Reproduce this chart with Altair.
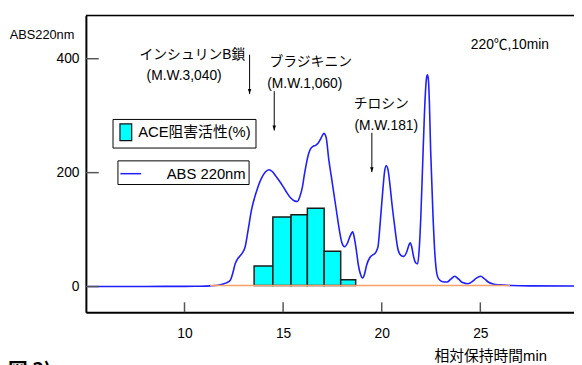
import altair as alt
import pandas as pd

# ---------------- data ----------------
# chromatogram, ABS 220nm (x: relative retention time, min)
curve_t = [5.1, 8.0, 10.0, 10.8, 11.3, 11.7, 12.0, 12.15, 12.32, 12.45, 12.57, 12.7, 12.82,
           12.95, 13.07, 13.23, 13.4, 13.65, 13.9, 14.1, 14.28, 14.45, 14.65, 14.9, 15.15,
           15.4, 15.6, 15.73, 15.85, 15.98, 16.08, 16.18, 16.3, 16.4, 16.52, 16.65, 16.78,
           16.9, 17.0, 17.07, 17.18, 17.32, 17.45, 17.57, 17.7, 17.82, 17.98, 18.12, 18.27,
           18.4, 18.53, 18.62, 18.72, 18.82, 18.92, 19.03, 19.13, 19.23, 19.4, 19.52, 19.65,
           19.74, 19.82, 19.93, 20.07, 20.15, 20.23, 20.32, 20.42, 20.52, 20.65, 20.82, 20.97,
           21.12, 21.28, 21.38, 21.45, 21.52, 21.62, 21.72, 21.82, 21.9, 21.98, 22.1, 22.2,
           22.27, 22.32, 22.37, 22.42, 22.48, 22.6, 22.7, 22.8, 22.9, 23.05, 23.32, 23.5,
           23.7, 23.9, 24.1, 24.37, 24.6, 24.8, 25.02, 25.2, 25.4, 25.65, 26.0, 26.6, 27.5, 29.75]
curve_v = [0.3, 0.3, 0.4, 0.6, 1.2, 2.5, 5, 7, 11, 24, 40, 49, 54,
           60, 69, 100, 135, 167, 190, 201, 205, 202, 193, 181, 167,
           155, 150, 149.5, 158, 175, 197, 216, 234, 242, 246, 248, 252,
           259, 266, 269, 262, 222, 192, 164, 134, 106, 77, 70, 77,
           89, 96, 84, 62, 37, 22, 15, 22, 37, 51, 55, 58,
           63, 72, 115, 175, 203, 212, 205, 178, 145, 108, 66, 55,
           53, 62, 73, 77, 70, 52, 42, 40, 65, 120, 239, 330,
           366, 372, 362, 320, 240, 125, 55, 22, 13, 9, 8, 13,
           18, 13, 7, 5, 9, 15, 18, 14, 8, 4.5, 3, 1.8, 1.2, 1.0]

# ACE inhibitory activity histogram (fraction edges in min, heights on the same axis)
bar_left = [13.53, 14.48, 15.40, 16.23, 17.08, 17.92]
bar_right = [14.48, 15.40, 16.23, 17.08, 17.92, 18.68]
bar_value = [36, 122, 126, 137.5, 62, 12]
bar_base = 2

# orange zero line of the activity plot
base_t = [11.3, 26.5]
base_v = [2, 2]

x_ticks = [10, 15, 20, 25]
y_ticks = [0, 200, 400]

# annotations
name_text = ["インシュリンB鎖", "ブラジキニン", "チロシン"]
name_t = [10.4, 16.4, 19.98]
name_v = [407, 395, 320]

mw_text = ["(M.W.3,040)", "(M.W.1,060)", "(M.W.181)", "220℃,10min"]
mw_t = [9.98, 16.1, 20.23, 26.5]
mw_v = [370, 356, 282, 424]

arrow_t = [13.3, 14.55, 19.5]
arrow_top = [407, 343, 270]
arrow_end = [338, 274, 201]

legend_bar = ["ACE阻害活性(%)"]
legend_line = ["ABS 220nm"]
y_title = "ABS220nm"
x_title = "相対保持時間min"
caption = ["図 3)"]

# ---------------- chart ----------------
W, H = 495, 301
FONT = "'Liberation Sans', 'Noto Sans CJK JP', sans-serif"
CJK = "'Noto Sans CJK JP', sans-serif"

xs = alt.Scale(domain=[5, 29.75], nice=False, zero=False)
ys = alt.Scale(domain=[-45, 476], nice=False, zero=False)

xaxis = alt.Axis(values=x_ticks, ticks=False, tickSize=0, grid=False, domain=True,
                 domainColor="black", domainWidth=2, labelFont=FONT, labelFontSize=14,
                 labelColor="black", labelPadding=15, labelFlush=False, format="d",
                 title=x_title, titleFont=FONT, titleFontSize=15, titleFontWeight="normal",
                 titleColor="black", titleX=410, titleY=44, titleAlign="center",
                 titleBaseline="middle", titleAngle=0)
yaxis = alt.Axis(values=y_ticks, ticks=False, tickSize=0, grid=False, domain=True,
                 domainColor="black", domainWidth=2, labelFont=FONT, labelFontSize=14,
                 labelColor="black", labelPadding=7, format="d",
                 title=y_title, titleFont=FONT, titleFontSize=13, titleFontWeight="normal",
                 titleColor="black", titleAngle=0, titleX=-45, titleY=19,
                 titleAlign="center", titleBaseline="middle")


def X(f, **kw):
    return alt.X(f, type="quantitative", scale=xs, axis=xaxis, **kw)


def Y(f, **kw):
    return alt.Y(f, type="quantitative", scale=ys, axis=yaxis, **kw)


curve_df = pd.DataFrame({"t": curve_t, "v": curve_v, "line_lab": legend_line[0]})
bar_df = pd.DataFrame({"t": bar_left, "t2": bar_right, "v": bar_value,
                       "v0": [bar_base] * len(bar_value), "fill_lab": legend_bar[0]})
base_df = pd.DataFrame({"t": base_t, "v": base_v})
xt_df = pd.DataFrame({"t": x_ticks})
yt_df = pd.DataFrame({"v": y_ticks})
name_df = pd.DataFrame({"t": name_t, "v": name_v, "label": name_text})
mw_df = pd.DataFrame({"t": mw_t, "v": mw_v, "label": mw_text})
arrow_df = pd.DataFrame({"t": arrow_t, "v": arrow_top, "v2": arrow_end})
cap_df = pd.DataFrame({"label": caption})
frame_df = pd.DataFrame({"k": [0]})

bars = alt.Chart(bar_df).mark_rect(stroke="#1a1a1a", strokeWidth=1.5).encode(
    x=X("t"), x2="t2", y=Y("v"), y2="v0",
    fill=alt.Fill("fill_lab:N", scale=alt.Scale(domain=legend_bar, range=["#00ffff"]),
                  legend=alt.Legend(orient="none", legendX=27, legendY=105, title=None,
                                    strokeColor="black", fillColor="white", padding=4,
                                    cornerRadius=0,
                                    symbolType="M-0.7,-1H0.7V1H-0.7Z", symbolSize=289,
                                    symbolStrokeColor="#111", symbolStrokeWidth=1.2,
                                    symbolOpacity=1,
                                    labelFont=FONT, labelFontSize=15, labelColor="black",
                                    labelOffset=3, labelLimit=300)),
)

curve = alt.Chart(curve_df).mark_line(strokeWidth=1.6, interpolate="monotone").encode(
    x=X("t"), y=Y("v"),
    stroke=alt.Stroke("line_lab:N", scale=alt.Scale(domain=legend_line, range=["#1e1eff"]),
                      legend=alt.Legend(orient="none", legendX=32, legendY=147, title=None,
                                        strokeColor="black", fillColor="white", padding=2,
                                        cornerRadius=0, symbolType="stroke",
                                        symbolSize=441, symbolStrokeWidth=1.5,
                                        labelFont=FONT, labelFontSize=15,
                                        labelColor="black", labelOffset=25,
                                        labelLimit=300)),
)

base = alt.Chart(base_df).mark_line(color="#f5a066", strokeWidth=1.6).encode(
    x=X("t"), y=Y("v"))

xticks = alt.Chart(xt_df).mark_rule(color="#555", strokeWidth=1.5).encode(
    x=X("t"), y=alt.value(H - 10), y2=alt.value(H))
yticks = alt.Chart(yt_df).mark_rule(color="#555", strokeWidth=1.5).encode(
    y=Y("v"), x=alt.value(0), x2=alt.value(13))

top_frame = alt.Chart(frame_df).mark_rule(color="black", strokeWidth=1.6).encode(
    x=alt.value(0), x2=alt.value(W), y=alt.value(0))

arrows = alt.Chart(arrow_df).mark_rule(color="black", strokeWidth=1).encode(
    x=X("t"), y=Y("v"), y2="v2")
heads = alt.Chart(arrow_df).mark_point(shape="M-0.7,-1L0.7,-1L0,1Z", size=25, filled=True,
                                      color="black", opacity=1, yOffset=-2.5).encode(
    x=X("t"), y=Y("v2"))

names = alt.Chart(name_df).mark_text(font=FONT, fontSize=14, color="black",
                                     align="center", baseline="middle").encode(
    x=X("t"), y=Y("v"), text="label:N")
mws = alt.Chart(mw_df).mark_text(font=FONT, fontSize=14, color="black",
                                 align="center", baseline="middle").encode(
    x=X("t"), y=Y("v"), text="label:N")

cap = alt.Chart(cap_df).mark_text(font=CJK, fontSize=20, fontWeight="bold", color="black",
                                  align="left", baseline="top").encode(
    x=alt.value(-79), y=alt.value(351), text="label:N")

chart = alt.layer(
    bars, curve, base, xticks, yticks, top_frame, arrows, heads, names, mws, cap
).properties(
    width=W, height=H,
    autosize=alt.AutoSizeParams(type="none"),
    padding={"left": 79, "top": 5, "right": 0, "bottom": 51},
).configure_view(stroke=None).configure(background="white")

chart.save("out.html", embed_options={"renderer": "svg", "actions": False})
